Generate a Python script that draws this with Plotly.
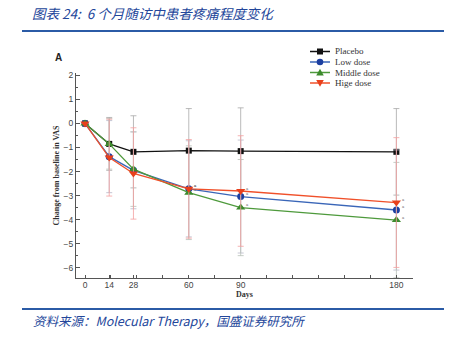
import plotly.graph_objects as go

days = [0, 14, 28, 60, 90, 180]
placebo = [0, -0.85, -1.18, -1.13, -1.15, -1.18]
low_dose = [0, -1.38, -1.95, -2.72, -3.04, -3.60]
middle_dose = [0, -0.85, -1.90, -2.88, -3.50, -4.02]
high_dose = [0, -1.42, -2.08, -2.72, -2.81, -3.29]

placebo_sd = [0, 1.1, 1.5, 1.75, 1.8, 1.8]
low_sd = [0, 1.5, 1.6, 2.0, 2.35, 2.5]
middle_sd = [0, 1.05, 1.55, 1.95, 2.0, 2.4]
high_sd = [0, 1.6, 1.9, 2.05, 2.3, 2.7]

x_labeled = [0, 14, 28, 60, 90, 180]
x_minor = [15, 30, 45, 75, 105, 120, 135, 150, 165]
y_ticks = [2, 1, 0, -1, -2, -3, -4, -5, -6]

title_text = "图表 24:  6 个月随访中患者疼痛程度变化"
source_text = "资料来源：Molecular Therapy，国盛证券研究所"

series = [
    ("Placebo", placebo, placebo_sd, "#111111", "#111111", "square", "#A8A8A8", 6),
    ("Low dose", low_dose, low_sd, "#3A66B8", "#1C3FA0", "circle", "#B8B8C8", 7),
    ("Middle dose", middle_dose, middle_sd, "#4E9A3C", "#3C8A2C", "triangle-up", "#B8C0B8", 8),
    ("Hige dose", high_dose, high_sd, "#F0502A", "#E8401C", "triangle-down", "#F4A0A0", 8),
]

fig = go.Figure()
for name, vals, sd, lc, mc, sym, ec, ms in series:
    fig.add_trace(go.Scatter(
        x=days, y=vals, name=name, mode="lines+markers", showlegend=False,
        line=dict(color=lc, width=1.3),
        marker=dict(symbol=sym, size=ms, color=mc),
        error_y=dict(type="data", array=sd, color=ec, thickness=0.8, width=3),
    ))

# small "a" significance marks next to treated groups
for vals in [low_dose, middle_dose, high_dose]:
    for d, v in zip(days[3:], vals[3:]):
        fig.add_annotation(x=d, y=v, text="a", showarrow=False, xshift=7, yshift=3,
                           font=dict(size=5, color="#666", family="Liberation Serif"))

W, H = 454, 339
L, R, T, B = 76, 41, 73, 61
pw, ph = W - L - R, H - T - B


def px(x):
    return (x - L) / pw


def py(y):
    return (H - B - y) / ph


# manual legend (compact rows like the reference)
leg_x0, leg_x1, leg_text_x = 310, 330, 333
row_y0, row_step = 51.5, 10.5
for i, (name, vals, sd, lc, mc, sym, ec, ms) in enumerate(series):
    yy = row_y0 + i * row_step
    fig.add_shape(type="line", xref="paper", yref="paper", x0=px(leg_x0), x1=px(leg_x1),
                  y0=py(yy), y1=py(yy), line=dict(color=lc, width=1.5))
    cx = (leg_x0 + leg_x1) / 2
    if sym == "square":
        s = 3
        fig.add_shape(type="rect", xref="paper", yref="paper", x0=px(cx - s), x1=px(cx + s),
                      y0=py(yy + s), y1=py(yy - s), fillcolor=mc, line=dict(width=0))
    elif sym == "circle":
        s = 3.3
        fig.add_shape(type="circle", xref="paper", yref="paper", x0=px(cx - s), x1=px(cx + s),
                      y0=py(yy + s), y1=py(yy - s), fillcolor=mc, line=dict(width=0))
    else:
        s = 3.8
        if sym == "triangle-up":
            pts = [(cx - s, yy + s * 0.8), (cx + s, yy + s * 0.8), (cx, yy - s)]
        else:
            pts = [(cx - s, yy - s * 0.8), (cx + s, yy - s * 0.8), (cx, yy + s)]
        path = "M " + " L ".join(f"{px(a):.5f},{py(b):.5f}" for a, b in pts) + " Z"
        fig.add_shape(type="path", xref="paper", yref="paper", path=path,
                      fillcolor=mc, line=dict(width=0))
    fig.add_annotation(xref="paper", yref="paper", x=px(leg_text_x), y=py(yy), xanchor="left",
                       yanchor="middle", text=name, showarrow=False,
                       font=dict(family="Liberation Serif", size=9, color="#333"))

ticktext = [str(v) for v in x_labeled] + ["" for _ in x_minor]

fig.update_layout(
    width=W, height=H,
    margin=dict(l=L, r=R, t=T, b=B),
    paper_bgcolor="white", plot_bgcolor="white",
    showlegend=False,
    xaxis=dict(range=[-5.2, 189.6], tickvals=x_labeled + x_minor, ticktext=ticktext,
               ticks="inside", ticklen=3, tickcolor="#555", showgrid=False, zeroline=False,
               showline=True, linecolor="#555", linewidth=1.2, ticklabelstandoff=-1,
               tickfont=dict(family="Liberation Sans", size=8.5, color="#444"),
               title=dict(text="<b>Days</b>", font=dict(family="Liberation Serif", size=8, color="#333"),
                          standoff=0)),
    yaxis=dict(range=[-6.43, 2.1], tickvals=y_ticks, ticks="inside", ticklen=4, tickcolor="#555",
               minor=dict(dtick=0.5, ticks="inside", ticklen=2, tickcolor="#555"),
               showgrid=False, zeroline=False, showline=True, linecolor="#555", linewidth=1.2,
               tickfont=dict(family="Liberation Sans", size=8.5, color="#444"),
               title=dict(text="<b>Change from baseline in VAS</b>",
                          font=dict(family="Liberation Serif", size=8, color="#333"), standoff=2)),
)

line_color = "#2B5BA6"
for yy in [31, 309]:
    fig.add_shape(type="line", xref="paper", yref="paper", x0=px(22), x1=px(444),
                  y0=py(yy), y1=py(yy), line=dict(color=line_color, width=2))

fig.add_annotation(xref="paper", yref="paper", x=px(30), y=py(13), xanchor="left", yanchor="middle",
                   text="<i>" + title_text + "</i>", showarrow=False,
                   font=dict(family="Noto Sans CJK SC", size=13.5, color="#23469A"))
fig.add_annotation(xref="paper", yref="paper", x=px(31), y=py(320), xanchor="left", yanchor="middle",
                   text="<i>" + source_text + "</i>", showarrow=False,
                   font=dict(family="Noto Sans CJK SC", size=12.5, color="#23469A"))
fig.add_annotation(xref="paper", yref="paper", x=px(58), y=py(58), xanchor="center", yanchor="middle",
                   text="<b>A</b>", showarrow=False,
                   font=dict(family="Liberation Sans", size=10, color="#222"))

fig.write_html("out.html")
